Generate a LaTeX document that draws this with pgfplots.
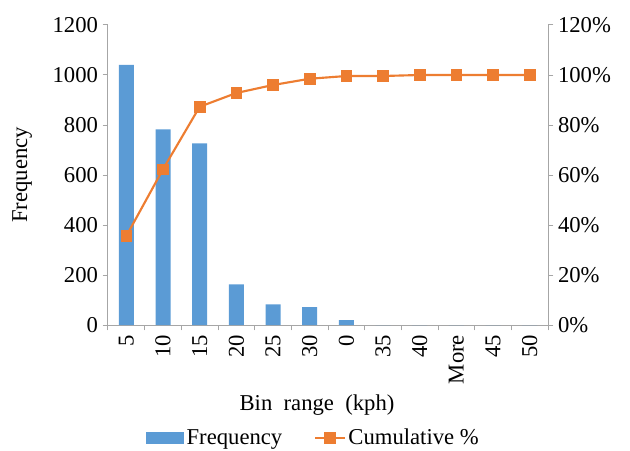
\documentclass[border=0pt]{standalone}
\usepackage{pgfplots}
\pgfplotsset{compat=1.18}
\usepackage{fontspec}
\setmainfont{Liberation Serif}
\definecolor{barblue}{HTML}{5B9BD5}
\definecolor{lineorange}{HTML}{ED7D31}
\definecolor{axgray}{HTML}{A6A6A6}
\newcommand{\cf}{\fontsize{17}{20}\selectfont}
\pgfplotsset{
  lineleg/.style={legend image code/.code={\draw[mark repeat=2,mark phase=2,##1] plot coordinates {(0pt,0pt)(11pt,0pt)(22pt,0pt)};}},
  barleg/.style={legend image code/.code={\fill[barblue] (0pt,-4.1pt) rectangle (27.75pt,4.1pt);}},
  every axis/.append style={
    scale only axis, width=330pt, height=225pt,
    at={(0,0)}, anchor=south west,
    xmin=-0.5, xmax=11.5,
    /pgf/number format/assume math mode=true,
    tick label style={font=\cf, black},
    label style={font=\cf},
    axis line style={axgray, line width=0.75pt},
    tick style={axgray, line width=0.75pt},
    tick align=outside,
    major tick length=4pt, minor tick length=4pt,
  }
}
\begin{document}
\begin{tikzpicture}
\useasboundingbox (-81pt,-93.75pt) rectangle (391.5pt,243.75pt);
\begin{axis}[
  ymin=0, ymax=1200, ytick={0,200,...,1200},
  axis y line*=left, axis x line*=bottom,
  xtick={0,...,11},
  xticklabels={5,10,15,20,25,30,0,35,40,More,45,50},
  major x tick style={draw=none},
  minor xtick={-0.5,0.5,...,11.5},
  xticklabel style={rotate=90, anchor=east, yshift=0pt},
  yticklabel style={/pgf/number format/1000 sep={}},
  ylabel={Frequency},
  ylabel style={at={(axis description cs:-0.195,0.5)}, anchor=center},
  xlabel={Bin\ \ range\ \ (kph)},
  xlabel style={at={(axis description cs:0.475,-0.267)}, anchor=center},
]
\addplot[ybar, bar width=11.25pt, fill=barblue, draw=none] coordinates {
  (0,1040) (1,783) (2,727) (3,163) (4,83) (5,72) (6,20)
  (7,0) (8,0) (9,0) (10,0) (11,0)};
\end{axis}
\begin{axis}[
  ymin=0, ymax=120, ytick={0,20,...,120},
  yticklabel={\pgfmathprintnumber{\tick}\%},
  axis y line*=right, axis x line=none,
  legend columns=2,
  legend style={draw=none, font=\cf, at={(axis description cs:0.468,-0.377)}, anchor=center,
    /tikz/every even column/.append style={column sep=22pt}},
]
\addlegendimage{barleg}
\addlegendentry{Frequency}
\addplot[lineorange, line width=1.6pt, mark=square*, mark size=4pt,
  mark options={fill=lineorange, line width=0.5pt}, lineleg]
  coordinates {
  (0,35.6) (1,62.3) (2,87.3) (3,92.8) (4,96.0) (5,98.5) (6,99.6)
  (7,99.6) (8,100) (9,100) (10,100) (11,100)};
\addlegendentry{Cumulative \%}
\end{axis}
\end{tikzpicture}
\end{document}
